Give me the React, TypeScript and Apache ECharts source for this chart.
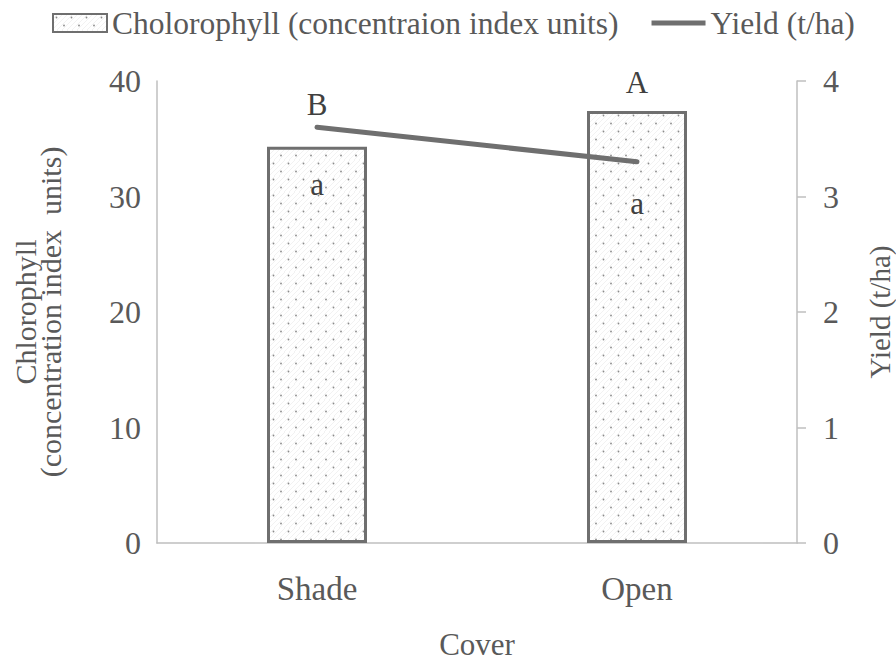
import React, { useEffect, useRef } from "react";
import * as echarts from "echarts";

const categories = ["Shade", "Open"];
const chlorophyll = [34.3, 37.4];
const yieldValues = [3.6, 3.3];
const chlorophyllLetters = ["B", "A"];
const yieldLetters = ["a", "a"];
const barLetterDistances = [27, 13];
const lineLetterDistances = [41, 26];

const FONT = "'Liberation Serif', 'Times New Roman', serif";
const TEXT = "#595959";
const AXIS = "#bfbfbf";
const DARK = "#6f6f6f";

function makePattern() {
  const c = document.createElement("canvas");
  c.width = 15;
  c.height = 16;
  const ctx = c.getContext("2d")!;
  ctx.fillStyle = "#ffffff";
  ctx.fillRect(0, 0, 15, 16);
  ctx.strokeStyle = "rgba(0,0,0,0.05)";
  ctx.lineWidth = 1;
  for (let k = -16; k < 32; k += 5) {
    ctx.beginPath();
    ctx.moveTo(k, 16);
    ctx.lineTo(k + 16, 0);
    ctx.stroke();
  }
  ctx.fillStyle = "#8a8a8a";
  ctx.beginPath();
  ctx.arc(3.5, 3.5, 0.9, 0, Math.PI * 2);
  ctx.fill();
  ctx.beginPath();
  ctx.arc(11, 11.5, 0.9, 0, Math.PI * 2);
  ctx.fill();
  return c;
}

export default function App() {
  const ref = useRef<HTMLDivElement>(null);
  useEffect(() => {
    if (!ref.current) return;
    const chart = echarts.init(ref.current, null, { renderer: "svg" });
    const pattern = makePattern();
    const option: any = {
      animation: false,
      backgroundColor: "#ffffff",
      textStyle: { fontFamily: FONT, color: TEXT },
      legend: {
        left: 52,
        top: 7,
        padding: 0,
        itemWidth: 54,
        itemHeight: 18,
        itemGap: 33,
        textStyle: { fontFamily: FONT, fontSize: 31.5, color: TEXT },
        data: [
          { name: "Cholorophyll (concentraion index units)", icon: "rect" },
          { name: "Yield (t/ha)", icon: "path://M0,0H54V5H0Z" },
        ],
      },
      grid: {
        left: 157,
        right: 99,
        top: 81,
        bottom: 118,
        containLabel: false,
        outerBoundsMode: "none",
      },
      xAxis: {
        type: "category",
        data: categories,
        name: "Cover",
        nameLocation: "middle",
        nameGap: 87,
        nameTextStyle: { fontFamily: FONT, fontSize: 31, color: TEXT, lineHeight: 29 },
        axisLine: { lineStyle: { color: AXIS, width: 1.5 } },
        axisTick: { show: false },
        axisLabel: { fontFamily: FONT, fontSize: 33, color: TEXT, margin: 29 },
      },
      yAxis: [
        {
          type: "value",
          min: 0,
          max: 40,
          interval: 10,
          name: "Chlorophyll\n(concentration index  units)",
          nameLocation: "middle",
          nameRotate: 90,
          nameGap: 94,
          nameTextStyle: { fontFamily: FONT, fontSize: 30, color: TEXT, lineHeight: 25 },
          axisLine: { show: true, lineStyle: { color: AXIS, width: 1.5 } },
          axisTick: { show: false },
          splitLine: { show: false },
          axisLabel: { fontFamily: FONT, fontSize: 32, color: TEXT, margin: 16 },
        },
        {
          type: "value",
          min: 0,
          max: 4,
          interval: 1,
          position: "right",
          name: "Yield (t/ha)",
          nameLocation: "middle",
          nameRotate: 90,
          nameGap: 68,
          nameTextStyle: { fontFamily: FONT, fontSize: 29, color: TEXT },
          axisLine: { show: true, lineStyle: { color: AXIS, width: 1.5 } },
          axisTick: { show: true, length: 9, lineStyle: { color: AXIS, width: 1.5 } },
          splitLine: { show: false },
          axisLabel: { fontFamily: FONT, fontSize: 32, color: TEXT, margin: 26 },
        },
      ],
      series: [
        {
          name: "Cholorophyll (concentraion index units)",
          type: "bar",
          yAxisIndex: 0,
          barWidth: 100,
          itemStyle: {
            color: { image: pattern, repeat: "repeat", imageWidth: 15, imageHeight: 16 },
            borderColor: DARK,
            borderWidth: 3,
          },
          data: chlorophyll.map((v, i) => ({
            value: v,
            label: {
              show: true,
              position: "top",
              distance: barLetterDistances[i],
              formatter: chlorophyllLetters[i],
              fontFamily: FONT,
              fontSize: 31,
              color: "#404040",
            },
          })),
        },
        {
          name: "Yield (t/ha)",
          type: "line",
          yAxisIndex: 1,
          symbol: "circle",
          symbolSize: 1,
          showSymbol: true,
          lineStyle: { color: DARK, width: 5, cap: "round" },
          itemStyle: { color: DARK },
          data: yieldValues.map((v, i) => ({
            value: v,
            label: {
              show: true,
              position: "bottom",
              distance: lineLetterDistances[i],
              formatter: yieldLetters[i],
              fontFamily: FONT,
              fontSize: 31,
              color: "#404040",
            },
          })),
          z: 5,
        },
      ],
    };
    chart.setOption(option);
    return () => chart.dispose();
  }, []);
  return (
    <div
      ref={ref}
      style={{ position: "absolute", left: 0, top: 0, width: 896, height: 661 }}
    />
  );
}
